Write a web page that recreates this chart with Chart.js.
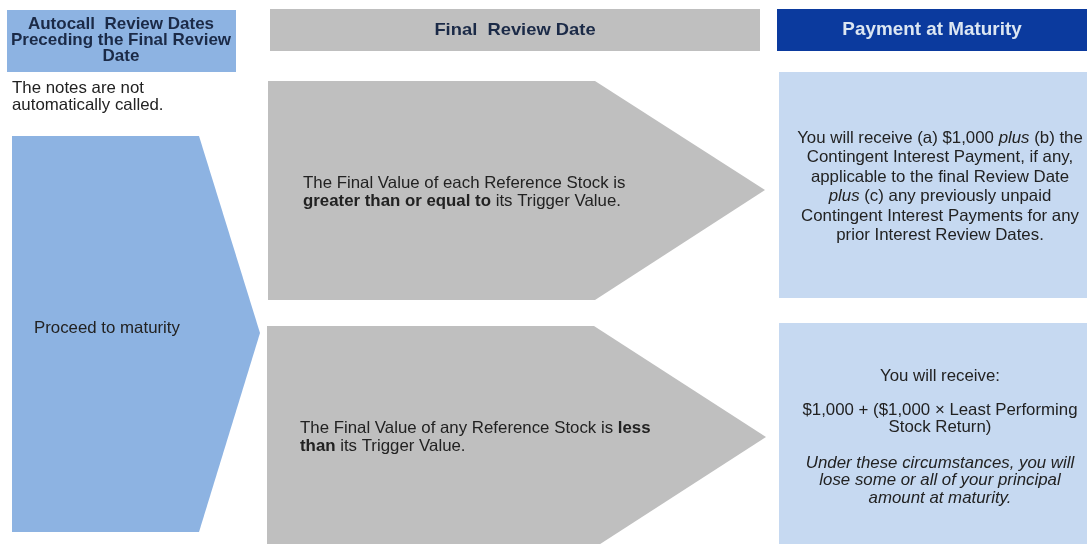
<!DOCTYPE html>
<html>
<head>
<meta charset="utf-8">
<script src="https://cdn.jsdelivr.net/npm/chart.js@4.4.1/dist/chart.umd.min.js"></script>
<style>
  html, body { margin: 0; padding: 0; background: #fff; }
  #wrap { width: 1087px; height: 544px; position: relative; }
</style>
</head>
<body>
<div id="wrap"><canvas id="flow"></canvas></div>
<script>
// diagram space: x 0..1087, y 0..544 (top down)
const AXIS_X = [0, 1087];
const AXIS_Y = [0, 544];

// shape outlines, in diagram units
const headLeft   = [[7, 10], [236, 10], [236, 72], [7, 72]];
const headMid    = [[270, 9], [760, 9], [760, 51], [270, 51]];
const headRight  = [[777, 9], [1087, 9], [1087, 51], [777, 51]];
const chevLeft   = [[12, 136], [199, 136], [260, 333], [199, 532], [12, 532]];
const arrowUp    = [[268, 81], [595, 81], [765, 190], [595, 300], [268, 300]];
const arrowDown  = [[267, 326], [594, 326], [766, 437], [594, 548], [267, 548]];
const boxUp      = [[779, 72], [1087, 72], [1087, 298], [779, 298]];
const boxDown    = [[779, 323], [1087, 323], [1087, 560], [779, 560]];

// texts ('n' normal, 'b' bold, 'i' italic)
const headLeftText  = [[['Autocall  Review Dates', 'b']], [['Preceding the Final Review', 'b']], [['Date', 'b']]];
const headMidText   = [[['Final  Review Date', 'b']]];
const headRightText = [[['Payment at Maturity', 'b']]];
const notCalledText = [[['The notes are not', 'n']], [['automatically called.', 'n']]];
const proceedText   = [[['Proceed to maturity', 'n']]];
const upCondText    = [
  [['The Final Value of each Reference Stock is', 'n']],
  [['greater than or equal to', 'b'], [' its Trigger Value.', 'n']]
];
const downCondText  = [
  [['The Final Value of any Reference Stock is ', 'n'], ['less', 'b']],
  [['than', 'b'], [' its Trigger Value.', 'n']]
];
const upPayText = [
  [['You will receive (a) $1,000 ', 'n'], ['plus', 'i'], [' (b) the', 'n']],
  [['Contingent Interest Payment, if any,', 'n']],
  [['applicable to the final Review Date', 'n']],
  [['plus', 'i'], [' (c) any previously unpaid', 'n']],
  [['Contingent Interest Payments for any', 'n']],
  [['prior Interest Review Dates.', 'n']]
];
const downPayText1 = [[['You will receive:', 'n']]];
const downPayText2 = [[['$1,000 + ($1,000 \u00d7 Least Performing', 'n']], [['Stock Return)', 'n']]];
const downPayText3 = [
  [['Under these circumstances, you will', 'i']],
  [['lose some or all of your principal', 'i']],
  [['amount at maturity.', 'i']]
];

const COLORS = {
  blue: '#8db3e2',
  gray: '#bfbfbf',
  navy: '#0b3a9e',
  pale: '#c6d9f1',
  ink: '#222222',
  headInk: '#1b2a47',
  headLight: '#dce6f2'
};

function poly(points, color) {
  const pts = points.map(p => ({ x: p[0], y: p[1] }));
  pts.push({ x: points[0][0], y: points[0][1] });
  return {
    data: pts,
    showLine: true,
    fill: 'shape',
    backgroundColor: color,
    borderColor: color,
    borderWidth: 0,
    pointRadius: 0,
    tension: 0
  };
}

const FONT = "'Liberation Sans', Arial, sans-serif";

function fontFor(style, size) {
  if (style === 'b') return 'bold ' + size + 'px ' + FONT;
  if (style === 'i') return 'italic ' + size + 'px ' + FONT;
  return size + 'px ' + FONT;
}

// draw lines of mixed runs; x,y in diagram units (y = middle of first line)
function drawRich(chart, lines, x, y, opt) {
  const ctx = chart.ctx;
  const px = chart.scales.x.getPixelForValue(x);
  const k = opt.stretch || 1;
  let py = chart.scales.y.getPixelForValue(y);
  ctx.save();
  ctx.fillStyle = opt.color;
  ctx.textBaseline = 'middle';
  ctx.textAlign = 'left';
  lines.forEach(line => {
    let w = 0;
    line.forEach(seg => { ctx.font = fontFor(seg[1], opt.size); w += ctx.measureText(seg[0]).width; });
    const cx = opt.align === 'center' ? px - w * k / 2 : px;
    ctx.save();
    ctx.translate(cx, py);
    ctx.scale(k, 1);
    let lx = 0;
    line.forEach(seg => {
      ctx.font = fontFor(seg[1], opt.size);
      ctx.fillText(seg[0], lx, 0);
      lx += ctx.measureText(seg[0]).width;
    });
    ctx.restore();
    py += opt.lh;
  });
  ctx.restore();
}

const body = { size: 16.5, stretch: 1.02, color: COLORS.ink };

const labelsPlugin = {
  id: 'labels',
  afterDatasetsDraw(chart) {
    drawRich(chart, headLeftText, 121, 24, { size: 17, lh: 16, align: 'center', color: COLORS.headInk });
    drawRich(chart, headMidText, 515, 30, { size: 17, stretch: 1.08, lh: 16, align: 'center', color: COLORS.headInk });
    drawRich(chart, headRightText, 932, 30, { size: 18.5, stretch: 1.02, lh: 16, align: 'center', color: COLORS.headLight });
    drawRich(chart, notCalledText, 12, 88, { ...body, lh: 17, align: 'left' });
    drawRich(chart, proceedText, 34, 328, { ...body, lh: 17, align: 'left' });
    drawRich(chart, upCondText, 303, 183, { ...body, lh: 18, align: 'left' });
    drawRich(chart, downCondText, 300, 428, { ...body, lh: 18, align: 'left' });
    drawRich(chart, upPayText, 940, 138, { ...body, lh: 19.5, align: 'center' });
    drawRich(chart, downPayText1, 940, 376, { ...body, lh: 17.5, align: 'center' });
    drawRich(chart, downPayText2, 940, 410, { ...body, lh: 17.5, align: 'center' });
    drawRich(chart, downPayText3, 940, 463, { ...body, lh: 17.5, align: 'center' });
  }
};

new Chart(document.getElementById('flow').getContext('2d'), {
  type: 'scatter',
  data: {
    datasets: [
      poly(headLeft, COLORS.blue),
      poly(headMid, COLORS.gray),
      poly(headRight, COLORS.navy),
      poly(chevLeft, COLORS.blue),
      poly(arrowUp, COLORS.gray),
      poly(arrowDown, COLORS.gray),
      poly(boxUp, COLORS.pale),
      poly(boxDown, COLORS.pale)
    ]
  },
  options: {
    responsive: true,
    maintainAspectRatio: false,
    animation: false,
    layout: { padding: 0 },
    scales: {
      x: { type: 'linear', display: false, min: AXIS_X[0], max: AXIS_X[1] },
      y: { type: 'linear', display: false, min: AXIS_Y[0], max: AXIS_Y[1], reverse: true }
    },
    plugins: { legend: { display: false }, tooltip: { enabled: false } },
    elements: { line: { borderWidth: 0 } }
  },
  plugins: [labelsPlugin]
});
</script>
</body>
</html>
